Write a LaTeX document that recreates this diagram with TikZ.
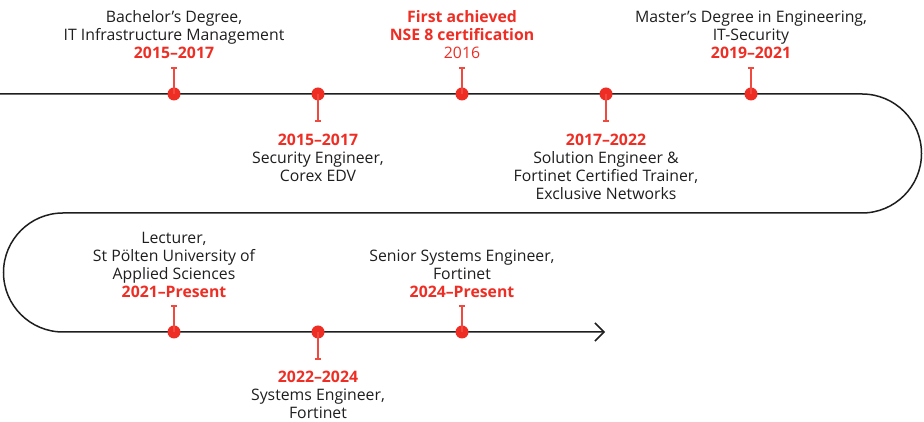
\documentclass[tikz,border=0pt]{standalone}
\usepackage{fontspec}
\setmainfont{Open Sans}
\usetikzlibrary{arrows.meta}
\definecolor{fred}{HTML}{EE2E24}
\definecolor{stemred}{HTML}{F04A40}
\definecolor{ink}{HTML}{1E1E1E}
\newcommand{\yr}[1]{{\color{fred}\bfseries #1}}
\begin{document}
\begin{tikzpicture}[x=1pt,y=1pt,
  mainline/.style={draw=ink,line width=1.5pt},
  dot/.style={circle,fill=fred,inner sep=0pt,minimum size=13pt},
  stem/.style={draw=stemred,line width=1.3pt},
  lbl/.style={align=center,inner sep=0pt,text=ink,font=\fontsize{15.8}{18}\selectfont},
]
\useasboundingbox (0,0) rectangle (924,422);
% main path
\coordinate (s) at (0,328);
\coordinate (r1) at (862,328);
\coordinate (l1) at (63,209);
\coordinate (e) at (605,90);
\draw[mainline,-{Straight Barb[length=9pt,width=18pt,line width=1.5pt]}]
  (s) -- (r1) arc[start angle=90,end angle=-90,radius=59.5pt]
  -- (l1) arc[start angle=90,end angle=270,radius=59.5pt] -- (e);
% dots
\foreach \n/\x in {d1/174,d2/318,d3/462,d4/606,d5/751}{
  \node[dot] (\n) at (\x,328) {};
}
\foreach \n/\x in {d6/174,d7/318,d8/462}{
  \node[dot] (\n) at (\x,90) {};
}
% stems
\foreach \n in {d1,d3,d5,d6,d8}{
  \coordinate (\n t) at ([yshift=26pt]\n.center);
  \draw[stem] (\n.center) -- (\n t);
  \draw[stem] ([xshift=-2.8pt]\n t) -- ([xshift=2.8pt]\n t);
}
\foreach \n in {d2,d4,d7}{
  \coordinate (\n t) at ([yshift=-27pt]\n.center);
  \draw[stem] (\n.center) -- (\n t);
  \draw[stem] ([xshift=-2.8pt]\n t) -- ([xshift=2.8pt]\n t);
}
% labels
\node[lbl,anchor=south] (A) at (174,363) {Bachelor’s Degree,\\IT Infrastructure Management\\\yr{2015–2017}};
\node[lbl,anchor=north] (B) at (318,288.5) {\yr{2015–2017}\\Security Engineer,\\Corex EDV};
\node[lbl,anchor=south,text=fred] (C) at (462,363) {\bfseries First achieved\\\bfseries NSE 8 certification\\2016};
\node[lbl,anchor=north] (D) at (606,288.5) {\yr{2017–2022}\\Solution Engineer \&\\Fortinet Certified Trainer,\\Exclusive Networks};
\node[lbl,anchor=south] (E) at (751,363) {Master’s Degree in Engineering,\\IT-Security\\\yr{2019–2021}};
\node[lbl,anchor=south] (F) at (174,124.5) {Lecturer,\\St Pölten University of\\Applied Sciences\\\yr{2021–Present}};
\node[lbl,anchor=north] (G) at (318,51.5) {\yr{2022–2024}\\Systems Engineer,\\Fortinet};
\node[lbl,anchor=south] (H) at (462,124.5) {Senior Systems Engineer,\\Fortinet\\\yr{2024–Present}};
\end{tikzpicture}
\end{document}
